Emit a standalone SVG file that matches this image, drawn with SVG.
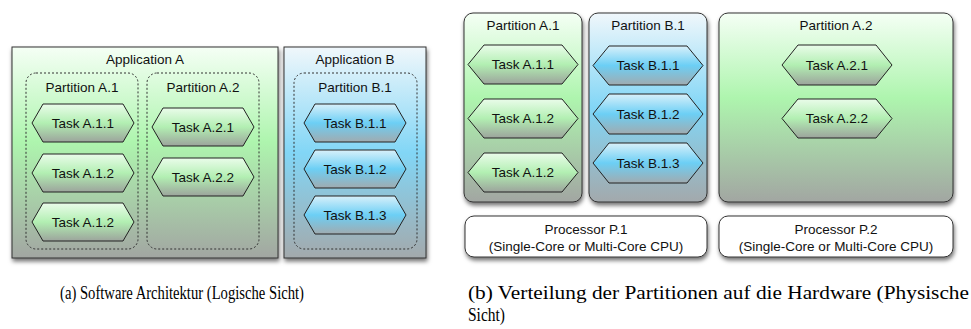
<svg xmlns="http://www.w3.org/2000/svg" width="971" height="329" viewBox="0 0 971 329">
<style>
text{font-family:"Liberation Sans",Arial,sans-serif;font-size:13.5px;fill:#111;text-anchor:middle;dominant-baseline:central}
.cap{font-family:"Liberation Serif","Times New Roman",serif;font-size:18px;text-anchor:start;dominant-baseline:alphabetic;fill:#000}
.box{stroke:#333;stroke-width:1;filter:url(#sh)}
.dash{fill:none;stroke:#333;stroke-width:1;stroke-dasharray:2 2}
.hex{stroke:#222;stroke-width:1}
.hg{fill:url(#hexG)}
.hb{fill:url(#hexB)}
.proc{fill:#fff;stroke:#333;stroke-width:1;filter:url(#sh)}
</style>
<defs>
<filter id="sh" x="-10%" y="-10%" width="130%" height="130%">
<feDropShadow dx="1" dy="3" stdDeviation="2" flood-color="#000" flood-opacity="0.55"/>
</filter>
<linearGradient id="boxG" x1="0" y1="0" x2="0" y2="1">
<stop offset="0" stop-color="#f5fff5"/>
<stop offset="0.45" stop-color="#aef5ae"/>
<stop offset="1" stop-color="#a2a6a2"/>
</linearGradient>
<linearGradient id="boxB" x1="0" y1="0" x2="0" y2="1">
<stop offset="0" stop-color="#f0f7fb"/>
<stop offset="0.5" stop-color="#82d6f6"/>
<stop offset="1" stop-color="#a3a9ac"/>
</linearGradient>
<linearGradient id="hexG" x1="0" y1="0" x2="0" y2="1">
<stop offset="0" stop-color="#eafcea"/>
<stop offset="0.5" stop-color="#b2efb2"/>
<stop offset="1" stop-color="#9ca49c"/>
</linearGradient>
<linearGradient id="hexB" x1="0" y1="0" x2="0" y2="1">
<stop offset="0" stop-color="#d8f0fa"/>
<stop offset="0.5" stop-color="#6ccff5"/>
<stop offset="1" stop-color="#a0abb0"/>
</linearGradient>
</defs>

<g id="appA">
<rect class="box" x="12" y="47" width="266" height="211" fill="url(#boxG)"/>
<text x="145" y="59">Application A</text>
</g>
<g id="partA1">
<rect class="dash" x="26" y="73" width="112" height="176" rx="10"/>
<text x="82" y="87">Partition A.1</text>
</g>
<g id="taskA11"><polygon class="hex hg" points="32,123 43,104 123,104 134,123 123,142 43,142"/><text x="83" y="123">Task A.1.1</text></g>
<g id="taskA12"><polygon class="hex hg" points="32,173 43,154 123,154 134,173 123,192 43,192"/><text x="83" y="173">Task A.1.2</text></g>
<g id="taskA13"><polygon class="hex hg" points="32,222 43,203 123,203 134,222 123,241 43,241"/><text x="83" y="222">Task A.1.2</text></g>
<g id="partA2">
<rect class="dash" x="147" y="73" width="112" height="176" rx="10"/>
<text x="203" y="87">Partition A.2</text>
</g>
<g id="taskA21"><polygon class="hex hg" points="152,127 163,108 243,108 254,127 243,146 163,146"/><text x="203" y="127">Task A.2.1</text></g>
<g id="taskA22"><polygon class="hex hg" points="152,177 163,158 243,158 254,177 243,196 163,196"/><text x="203" y="177">Task A.2.2</text></g>

<g id="appB">
<rect class="box" x="284" y="47" width="142" height="211" fill="url(#boxB)"/>
<text x="355" y="59">Application B</text>
</g>
<g id="partB1">
<rect class="dash" x="294" y="73" width="123" height="176" rx="10"/>
<text x="355" y="87">Partition B.1</text>
</g>
<g id="taskB11"><polygon class="hex hb" points="304,123 315,104 395,104 406,123 395,142 315,142"/><text x="355" y="123">Task B.1.1</text></g>
<g id="taskB12"><polygon class="hex hb" points="304,169 315,150 395,150 406,169 395,188 315,188"/><text x="355" y="169">Task B.1.2</text></g>
<g id="taskB13"><polygon class="hex hb" points="304,215 315,196 395,196 406,215 395,234 315,234"/><text x="355" y="215">Task B.1.3</text></g>

<g id="physA1">
<rect class="box" x="464" y="13" width="118" height="189" rx="9" fill="url(#boxG)"/>
<text x="523" y="25">Partition A.1</text>
</g>
<g id="pTaskA11"><polygon class="hex hg" points="468,64.5 484,45 562,45 578,64.5 562,84 484,84"/><text x="523" y="64.5">Task A.1.1</text></g>
<g id="pTaskA12"><polygon class="hex hg" points="468,118.5 484,99 562,99 578,118.5 562,138 484,138"/><text x="523" y="118.5">Task A.1.2</text></g>
<g id="pTaskA13"><polygon class="hex hg" points="468,172.5 484,153 562,153 578,172.5 562,192 484,192"/><text x="523" y="172.5">Task A.1.2</text></g>

<g id="physB1">
<rect class="box" x="589" y="13" width="118" height="189" rx="9" fill="url(#boxB)"/>
<text x="648" y="25">Partition B.1</text>
</g>
<g id="pTaskB11"><polygon class="hex hb" points="593,65.5 609,46 687,46 703,65.5 687,85 609,85"/><text x="648" y="65.5">Task B.1.1</text></g>
<g id="pTaskB12"><polygon class="hex hb" points="593,114 609,94 687,94 703,114 687,134 609,134"/><text x="648" y="114">Task B.1.2</text></g>
<g id="pTaskB13"><polygon class="hex hb" points="593,163 609,143 687,143 703,163 687,183 609,183"/><text x="648" y="163">Task B.1.3</text></g>

<g id="physA2">
<rect class="box" x="719" y="13" width="234" height="189" rx="9" fill="url(#boxG)"/>
<text x="836" y="25">Partition A.2</text>
</g>
<g id="pTaskA21"><polygon class="hex hg" points="782,65 798,45 876,45 892,65 876,85 798,85"/><text x="837" y="65">Task A.2.1</text></g>
<g id="pTaskA22"><polygon class="hex hg" points="782,118.5 798,99 876,99 892,118.5 876,138 798,138"/><text x="837" y="118.5">Task A.2.2</text></g>

<g id="procP1">
<rect class="proc" x="465" y="216" width="242" height="41" rx="9"/>
<text x="586" y="229">Processor P.1</text>
<text x="586" y="246">(Single-Core or Multi-Core CPU)</text>
</g>
<g id="procP2">
<rect class="proc" x="719" y="216" width="234" height="41" rx="9"/>
<text x="836" y="229">Processor P.2</text>
<text x="836" y="246">(Single-Core or Multi-Core CPU)</text>
</g>

<g id="connectors"/>

<text class="cap" x="60" y="299" textLength="244" lengthAdjust="spacingAndGlyphs">(a) Software Architektur (Logische Sicht)</text>
<text class="cap" x="468" y="299" textLength="501" lengthAdjust="spacingAndGlyphs">(b) Verteilung der Partitionen auf die Hardware (Physische</text>
<text class="cap" x="468" y="321" textLength="37" lengthAdjust="spacingAndGlyphs">Sicht)</text>
</svg>
